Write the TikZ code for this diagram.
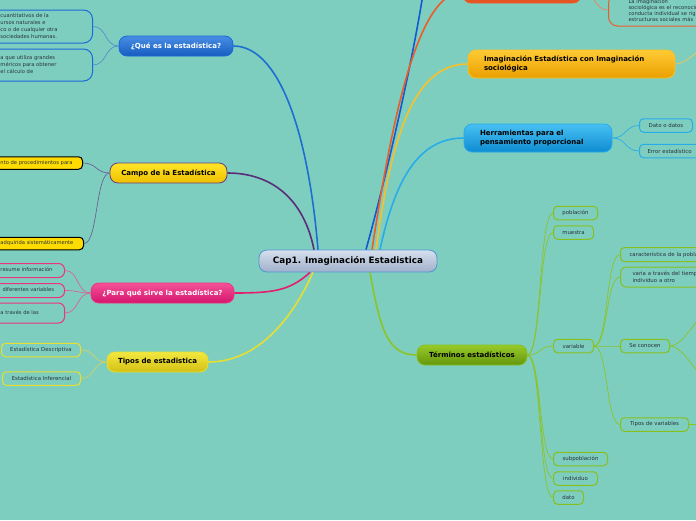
\documentclass[tikz,border=0pt]{standalone}
\usepackage{fontspec}
\setmainfont{DejaVu Sans}
\usetikzlibrary{positioning, calc}
\definecolor{bgteal}{RGB}{126,206,192}
\definecolor{leaftext}{RGB}{40,50,60}
\definecolor{captop}{RGB}{214,224,238}
\definecolor{capbot}{RGB}{160,176,202}
\definecolor{capedge}{RGB}{80,150,210}
\definecolor{quetop}{RGB}{72,142,228}
\definecolor{quebot}{RGB}{22,92,192}
\definecolor{queedge}{RGB}{25,105,215}
\definecolor{quelink}{RGB}{30,110,210}
\definecolor{quetwig}{RGB}{80,145,205}
\definecolor{campotop}{RGB}{255,230,40}
\definecolor{campobot}{RGB}{238,192,0}
\definecolor{campoedge}{RGB}{100,60,130}
\definecolor{campolink}{RGB}{90,45,120}
\definecolor{campotwig}{RGB}{105,100,150}
\definecolor{campoleaf}{RGB}{255,220,0}
\definecolor{paratop}{RGB}{245,82,152}
\definecolor{parabot}{RGB}{212,20,110}
\definecolor{paraedge}{RGB}{238,50,125}
\definecolor{paralink}{RGB}{228,30,110}
\definecolor{paratwig}{RGB}{215,100,145}
\definecolor{tipotop}{RGB}{242,232,64}
\definecolor{tipobot}{RGB}{212,192,20}
\definecolor{tipoedge}{RGB}{230,222,50}
\definecolor{tipotwig}{RGB}{210,210,100}
\definecolor{termtop}{RGB}{152,202,42}
\definecolor{termbot}{RGB}{100,150,12}
\definecolor{termedge}{RGB}{135,192,30}
\definecolor{termtwig}{RGB}{140,195,40}
\definecolor{imagtop}{RGB}{255,202,52}
\definecolor{imagbot}{RGB}{234,160,0}
\definecolor{imagedge}{RGB}{250,192,40}
\definecolor{imagtwig}{RGB}{240,200,80}
\definecolor{herrtop}{RGB}{72,192,242}
\definecolor{herrbot}{RGB}{14,140,210}
\definecolor{herredge}{RGB}{40,172,232}
\definecolor{herrtwig}{RGB}{40,175,230}
\definecolor{soctop}{RGB}{245,122,62}
\definecolor{socbot}{RGB}{225,82,32}
\definecolor{socedge}{RGB}{236,92,42}
\definecolor{soctwig}{RGB}{235,130,90}
\definecolor{deepblue}{RGB}{20,90,205}
\newcommand{\cutlines}[2]{\begin{tabular}{@{\hspace{40pt}}p{#1}@{}}#2\end{tabular}}
\tikzset{
  topic/.style={rectangle, rounded corners=8pt, line width=0.8pt, inner sep=0pt,
    minimum height=20pt, font=\fontsize{7}{8.5}\selectfont\bfseries},
  leaf/.style={rectangle, rounded corners=4pt, line width=1pt, inner sep=0pt,
    minimum height=13.5pt, anchor=west, text=leaftext, font=\fontsize{5.4}{7}\selectfont},
  leftcut/.style={rectangle, rounded corners=6pt, line width=1pt, inner xsep=4pt,
    inner ysep=0pt, anchor=east, text=leaftext, font=\fontsize{5.2}{7}\selectfont},
  rightcut/.style={rectangle, rounded corners=6pt, line width=1pt, inner ysep=0pt,
    anchor=west, align=left, text width=130pt, text=leaftext, font=\fontsize{5.4}{7}\selectfont},
  link/.style={line width=1.6pt},
  twig/.style={line width=0.7pt}
}
\begin{document}
\begin{tikzpicture}[x=1pt, y=-1pt]
  \useasboundingbox (0,0) rectangle (696,520);
  \fill[bgteal] (0,0) rectangle (696,520);

  % central topic
  \node[topic, minimum width=178pt, minimum height=22pt, top color=captop, bottom color=capbot,
    draw=capedge, font=\fontsize{8.8}{10}\selectfont\bfseries] (cap) at (348,261) {Cap1. Imaginación Estadistica};

  % left branches
  \node[topic, minimum width=114pt, top color=quetop, bottom color=quebot, draw=queedge, text=white] (que) at (176,46) {¿Qué es la estadística?};
  \node[topic, minimum width=117pt, top color=campotop, bottom color=campobot, draw=campoedge] (campo) at (168.5,173) {Campo de la Estadística};
  \node[topic, minimum width=143pt, top color=paratop, bottom color=parabot, draw=paraedge, text=white] (para) at (162.5,293) {¿Para qué sirve la estadística?};
  \node[topic, minimum width=101pt, top color=tipotop, bottom color=tipobot, draw=tipoedge] (tipos) at (157.5,362) {Tipos de estadistica};

  \node[leftcut, draw=queedge, rounded corners=9pt, minimum height=33pt] (que1) at (93,26.5)
    {\cutlines{88pt}{cuantitativos de la\\ursos naturales e\\co o de cualquier otra\\sociedades humanas.}};
  \node[leftcut, draw=queedge, rounded corners=9pt, minimum height=32pt] (que2) at (93,65)
    {\cutlines{88pt}{a que utiliza grandes\\méricos para obtener\\el cálculo de}};
  \node[leftcut, draw=black, fill=campoleaf, rounded corners=4pt, minimum height=12.5pt] (campo1) at (83,163)
    {\cutlines{78pt}{nto de procedimientos para}};
  \node[leftcut, draw=black, fill=campoleaf, rounded corners=4pt, minimum height=12.5pt] (campo2) at (84,243.5)
    {\cutlines{79pt}{adquirida sistemáticamente}};
  \node[leftcut, draw=paraedge, minimum height=14pt] (para1) at (65,270.5) {\cutlines{60pt}{resume información}};
  \node[leftcut, draw=paraedge, minimum height=14pt] (para2) at (65,290.5) {\cutlines{58pt}{diferentes variables}};
  \node[leftcut, draw=paraedge, minimum height=20pt] (para3) at (65,313) {\cutlines{60pt}{a través de las}};
  \node[leaf, draw=tipoedge, minimum width=79pt] (tipo1) at (1,350) {Estadística Descriptiva};
  \node[leaf, draw=tipoedge, minimum width=78pt] (tipo2) at (2,378.5) {Estadística Inferencial};

  % right branches
  \node[topic, minimum width=118pt, minimum height=22pt, top color=soctop, bottom color=socbot, draw=socedge] (imsoc) at (522,-8) {};
  \node[rightcut, draw=socedge, rounded corners=9pt, inner xsep=20pt, minimum height=32pt,
    font=\fontsize{5.2}{6}\selectfont] (soc1) at (608,10)
    {La imaginación\\sociológica es el reconocimiento\\conducta individual se rige\\estructuras sociales más};
  \node[topic, minimum width=207pt, minimum height=28pt, top color=imagtop, bottom color=imagbot, draw=imagedge,
    align=left, text width=175pt] (imag) at (571.5,64) {Imaginación Estadística con Imaginación\\sociológica};
  \node[topic, minimum width=148pt, minimum height=28pt, top color=herrtop, bottom color=herrbot, draw=herredge,
    align=left, text width=116pt] (herr) at (538,138) {Herramientas para el\\pensamiento proporcional};
  \node[leaf, draw=herredge, minimum width=53pt] (dato1) at (639,125.5) {Dato o datos};
  \node[rightcut, draw=herredge, rounded corners=4pt, inner xsep=8pt, minimum height=13.5pt] (error) at (639,151) {Error estadístico};

  % terms
  \node[topic, minimum width=110pt, top color=termtop, bottom color=termbot, draw=termedge] (term) at (472,355) {Términos estadísticos};
  \node[leaf, draw=termedge, minimum width=44pt] (pob) at (553,213) {población};
  \node[leaf, draw=termedge, minimum width=40pt] (mue) at (553,232.5) {muestra};
  \node[leaf, draw=termedge, minimum width=40pt] (var) at (553,346) {variable};
  \node[leaf, draw=termedge, minimum width=54pt] (subp) at (553,459) {subpoblación};
  \node[leaf, draw=termedge, minimum width=44pt] (indiv) at (553,478.5) {individuo};
  \node[leaf, draw=termedge, minimum width=30pt] (dato) at (553,497.5) {dato};
  \node[rightcut, draw=termedge, rounded corners=4pt, inner xsep=9pt, minimum height=14pt] (car) at (620,254.5) {característica de la población};
  \node[rightcut, draw=termedge, rounded corners=6pt, inner xsep=12pt, minimum height=20pt] (varia) at (620,277) {varia a través del tiempo\\individuo a otro};
  \node[leaf, draw=termedge, minimum width=49pt] (seco) at (620,346) {Se conocen};
  \node[leaf, draw=termedge, minimum width=68pt] (tvar) at (620,424.5) {Tipos de variables};

  % free ends beyond the page
  \coordinate (offblue) at (428,-45);
  \coordinate (offimag) at (722,38);
  \coordinate (offse1) at (718,304);
  \coordinate (offse2) at (718,388);
  \coordinate (offtvar) at (722,424.5);

  % main links
  \draw[link, quelink] ($(cap.north)+(-30,0)$) .. controls +(-10,-120) and +(45,0) .. (que.east);
  \draw[link, campolink] ($(cap.north)+(-34,0)$) .. controls +(-10,-50) and +(45,0) .. (campo.east);
  \draw[link, paralink] ($(cap.south)+(-38,0)$) .. controls +(-20,18) and +(40,0) .. (para.east);
  \draw[link, tipoedge] ($(cap.south)+(-35,0)$) .. controls +(-20,45) and +(50,0) .. (tipos.east);
  \draw[link, termtwig] ($(cap.south)+(22,0)$) .. controls +(10,55) and +(-30,0) .. (term.west);
  \draw[link, deepblue] ($(cap.north)+(18,0)$) .. controls +(25,-90) and +(-5,60) .. (offblue);
  \draw[link, socedge] ($(cap.north)+(24,0)$) .. controls +(20,-130) and +(-45,0) .. (imsoc.west);
  \draw[link, imagedge] ($(cap.north)+(28,0)$) .. controls +(15,-110) and +(-55,0) .. (imag.west);
  \draw[link, herredge] ($(cap.north)+(32,0)$) .. controls +(15,-70) and +(-45,0) .. (herr.west);

  % twigs
  \foreach \c in {que1,que2}
    \draw[twig, quetwig] (que.west) .. controls +(-14,0) and +(14,0) .. (\c.east);
  \foreach \c in {campo1,campo2}
    \draw[twig, campotwig] (campo.west) .. controls +(-14,0) and +(14,0) .. (\c.east);
  \foreach \c in {para1,para2,para3}
    \draw[twig, paratwig] (para.west) .. controls +(-14,0) and +(14,0) .. (\c.east);
  \foreach \c in {tipo1,tipo2}
    \draw[twig, tipotwig] (tipos.west) .. controls +(-14,0) and +(14,0) .. (\c.east);
  \foreach \c in {dato1,error}
    \draw[twig, herrtwig] (herr.east) .. controls +(14,0) and +(-14,0) .. (\c.west);
  \foreach \c in {pob,mue,var,subp,indiv,dato}
    \draw[twig, termtwig] (term.east) .. controls +(14,0) and +(-14,0) .. (\c.west);
  \foreach \c in {car,varia,seco,tvar}
    \draw[twig, termtwig] (var.east) .. controls +(14,0) and +(-14,0) .. (\c.west);
  \foreach \c in {offse1,offse2}
    \draw[twig, termtwig] (seco.east) .. controls +(16,0) and +(-16,0) .. (\c);
  \draw[twig, termtwig] (tvar.east) -- (offtvar);
  \draw[twig, soctwig] (imsoc.east) .. controls +(14,0) and +(-14,0) .. (soc1.west);
  \draw[twig, imagtwig] (imag.east) .. controls +(14,0) and +(-14,0) .. (offimag);
\end{tikzpicture}
\end{document}
